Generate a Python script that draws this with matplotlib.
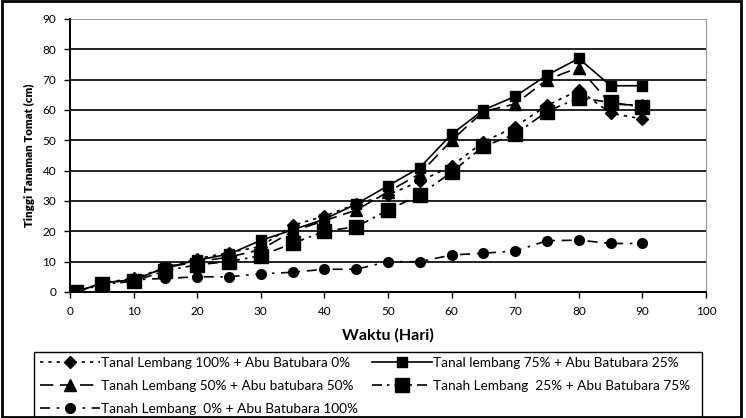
import matplotlib
matplotlib.use("Agg")
import matplotlib.pyplot as plt
from matplotlib.patches import Rectangle

plt.rcParams['font.family'] = ['Lato', 'DejaVu Sans']

days = [1, 5, 10, 15, 20, 25, 30, 35, 40, 45, 50, 55, 60, 65, 70, 75, 80, 85, 90]
s100_0 = [0, 3, 4.5, 8, 11, 13, 15, 22, 25, 29, 32, 36.5, 41.5, 49.5, 54.5, 61.5, 66.5, 59, 57]
s75_25 = [0, 3, 4, 8, 10.5, 12.5, 17, 20.5, 24, 29, 35, 41, 52, 60, 64.5, 71.5, 77, 68, 68]
s50_50 = [0, 3, 4, 8, 10, 11.5, 14, 20, 23.5, 27, 33, 39, 50, 59.5, 62, 70, 74, 62, 61.5]
s25_75 = [0, 2.5, 3.5, 7, 9, 10, 12, 16, 20, 21.5, 27, 32, 39.5, 48, 52, 59.5, 64, 62.5, 61]
s0_100 = [0, 3, 4, 4.5, 5, 5, 6, 6.5, 7.5, 7.5, 10, 10, 12.2, 12.8, 13.5, 16.9, 17.1, 16, 16]

labels = [
    "Tanal Lembang 100% + Abu Batubara 0%",
    "Tanal lembang 75% + Abu Batubara 25%",
    "Tanah Lembang 50% + Abu batubara 50%",
    "Tanah Lembang  25% + Abu Batubara 75%",
    "Tanah Lembang  0% + Abu Batubara 100%",
]
xticks = list(range(0, 101, 10))
yticks = list(range(0, 91, 10))

W, H = 746, 418
fig = plt.figure(figsize=(W/100, H/100), dpi=100)
ax = fig.add_axes([70/W, 1-292/H, (706-70)/W, (292-19)/H])

h1, = ax.plot(days, s100_0, color='black', lw=1.2, linestyle=(0, (2, 3)),
              marker='D', markersize=6.5, label=labels[0])
h2, = ax.plot(days, s75_25, color='black', lw=1.2, linestyle='-',
              marker='s', markersize=6.5, label=labels[1])
h3, = ax.plot(days, s50_50, color='black', lw=1.2, linestyle=(0, (8, 4)),
              marker='^', markersize=8, label=labels[2])
h4, = ax.plot(days, s25_75, color='black', lw=1.2, linestyle=(0, (6, 3, 1.5, 3)),
              marker='s', markersize=10.5, label=labels[3])
h5, = ax.plot(days, s0_100, color='black', lw=1.2, linestyle=(0, (6, 4, 1.5, 4)),
              marker='o', markersize=7, label=labels[4])

ax.set_xlim(0, 100)
ax.set_ylim(0, 90)
ax.set_xticks(xticks)
ax.set_yticks(yticks)
ax.tick_params(axis='both', labelsize=8.5, direction='out', length=4, width=1, pad=6)
for y in yticks[1:-1]:
    ax.axhline(y, color='#222222', lw=1.4, zorder=0)
ax.axhline(90, color='#999999', lw=1.4, zorder=0)
ax.spines['top'].set_visible(False)
ax.spines['right'].set_color('#999999')
ax.spines['left'].set_linewidth(1.4)
ax.spines['bottom'].set_linewidth(1.4)

ax.set_xlabel("Waktu (Hari)", fontsize=11.5, fontweight='bold', labelpad=8)
ax.set_ylabel("Tinggi Tanaman Tomat (cm)", fontsize=8.3, fontweight='heavy', labelpad=5)

common = dict(ncol=1, fontsize=9.8, frameon=False, handlelength=4.4,
              handletextpad=0.1, borderaxespad=0, labelspacing=0.8, borderpad=0)
leg1 = fig.legend(handles=[h1, h3, h5], labels=[labels[0], labels[2], labels[4]],
                  loc='upper left', bbox_to_anchor=(40/W, 1-357/H), **common)
leg2 = fig.legend(handles=[h2, h4], labels=[labels[1], labels[3]],
                  loc='upper left', bbox_to_anchor=(372/W, 1-357/H), **common)

fig.patches.append(Rectangle((34/W, 1-417/H), (702-34)/W, (417-352)/H,
                             transform=fig.transFigure, fill=False,
                             edgecolor='black', lw=1.0))
fig.patches.append(Rectangle((2/W, 1/H), (741-2)/W, (H-2)/H, transform=fig.transFigure,
                             fill=False, edgecolor='black', lw=2))

fig.savefig("out.png", dpi=100)
